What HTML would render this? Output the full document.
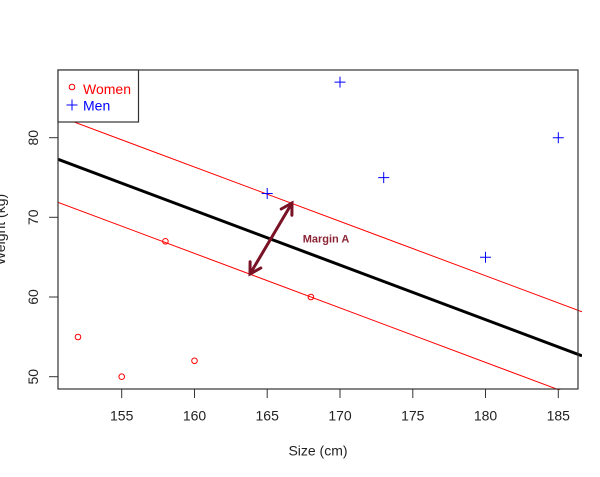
<!DOCTYPE html>
<html>
<head>
<meta charset="utf-8">
<style>
html,body{margin:0;padding:0;background:#fff;}
svg{display:block;}
text{font-family:"Liberation Sans",Arial,sans-serif;}
</style>
</head>
<body>
<svg width="600" height="477" viewBox="0 0 600 477" xmlns="http://www.w3.org/2000/svg">
<defs>
<clipPath id="c"><rect x="58" y="70" width="524" height="320"/></clipPath>
</defs>
<rect width="600" height="477" fill="#fff"/>

<!-- lines -->
<g clip-path="url(#c)">
<line x1="58" y1="116" x2="582" y2="311.8" stroke="#ff0000" stroke-width="1"/>
<line x1="58" y1="202.3" x2="582" y2="398.5" stroke="#ff0000" stroke-width="1"/>
<line x1="58" y1="159.3" x2="582" y2="355.8" stroke="#000" stroke-width="3"/>
</g>

<!-- plot box -->
<rect x="58" y="70" width="520" height="319" fill="none" stroke="#333" stroke-width="1.2"/>

<!-- legend -->
<rect x="58" y="70" width="80.5" height="52" fill="#fff" stroke="#333" stroke-width="1.2"/>
<circle cx="72" cy="87" r="2.8" fill="none" stroke="#ff0000" stroke-width="1"/>
<text x="83" y="94" font-size="14" fill="#ff0000">Women</text>
<line x1="66.5" y1="105" x2="77.5" y2="105" stroke="#0000ff" stroke-width="1"/>
<line x1="72" y1="99.5" x2="72" y2="110.5" stroke="#0000ff" stroke-width="1"/>
<text x="83" y="110.7" font-size="14" fill="#0000ff">Men</text>

<!-- x axis ticks -->
<g stroke="#333" stroke-width="1">
<line x1="121.7" y1="389" x2="121.7" y2="398"/>
<line x1="194.5" y1="389" x2="194.5" y2="398"/>
<line x1="267.2" y1="389" x2="267.2" y2="398"/>
<line x1="340" y1="389" x2="340" y2="398"/>
<line x1="412.8" y1="389" x2="412.8" y2="398"/>
<line x1="485.5" y1="389" x2="485.5" y2="398"/>
<line x1="558.3" y1="389" x2="558.3" y2="398"/>
</g>
<g font-size="14" fill="#222" text-anchor="middle">
<text x="121.7" y="420.5">155</text>
<text x="194.5" y="420.5">160</text>
<text x="267.2" y="420.5">165</text>
<text x="340" y="420.5">170</text>
<text x="412.8" y="420.5">175</text>
<text x="485.5" y="420.5">180</text>
<text x="558.3" y="420.5">185</text>
</g>
<text x="318" y="455.5" font-size="14" fill="#222" text-anchor="middle">Size (cm)</text>

<!-- y axis ticks -->
<g stroke="#333" stroke-width="1">
<line x1="49" y1="376.7" x2="58" y2="376.7"/>
<line x1="49" y1="297" x2="58" y2="297"/>
<line x1="49" y1="217.3" x2="58" y2="217.3"/>
<line x1="49" y1="137.7" x2="58" y2="137.7"/>
</g>
<g font-size="14" fill="#222" text-anchor="middle">
<text transform="translate(38.2,376.7) rotate(-90)">50</text>
<text transform="translate(38.2,297) rotate(-90)">60</text>
<text transform="translate(38.2,217.3) rotate(-90)">70</text>
<text transform="translate(38.2,137.7) rotate(-90)">80</text>
</g>
<text transform="translate(5,229.5) rotate(-90)" font-size="14" fill="#222" text-anchor="middle">Weight (kg)</text>

<!-- women points -->
<g fill="none" stroke="#ff0000" stroke-width="1">
<circle cx="78" cy="337" r="2.8"/>
<circle cx="121.7" cy="376.7" r="2.8"/>
<circle cx="165.4" cy="241.3" r="2.8"/>
<circle cx="194.5" cy="360.8" r="2.8"/>
<circle cx="310.9" cy="297" r="2.8"/>
</g>

<!-- men points -->
<g stroke="#0000ff" stroke-width="1">
<path d="M261.7 193.5H272.7M267.2 188V199"/>
<path d="M334.5 82.1H345.5M340 76.6V87.6"/>
<path d="M378.2 177.6H389.2M383.7 172.1V183.1"/>
<path d="M480 257.2H491M485.5 251.7V262.7"/>
<path d="M552.8 137.7H563.8M558.3 132.2V143.2"/>
</g>

<!-- margin arrow -->
<g stroke="#7a1226" stroke-width="3" stroke-linecap="round" fill="none">
<line x1="250" y1="274" x2="292" y2="203"/>
<polyline points="281.2,209 292,203 291.9,215.3"/>
<polyline points="260.8,268 250,274 250.1,261.7"/>
</g>
<text x="302.7" y="242.3" font-size="11" font-weight="bold" fill="#8b2335">Margin A</text>
</svg>
</body>
</html>
